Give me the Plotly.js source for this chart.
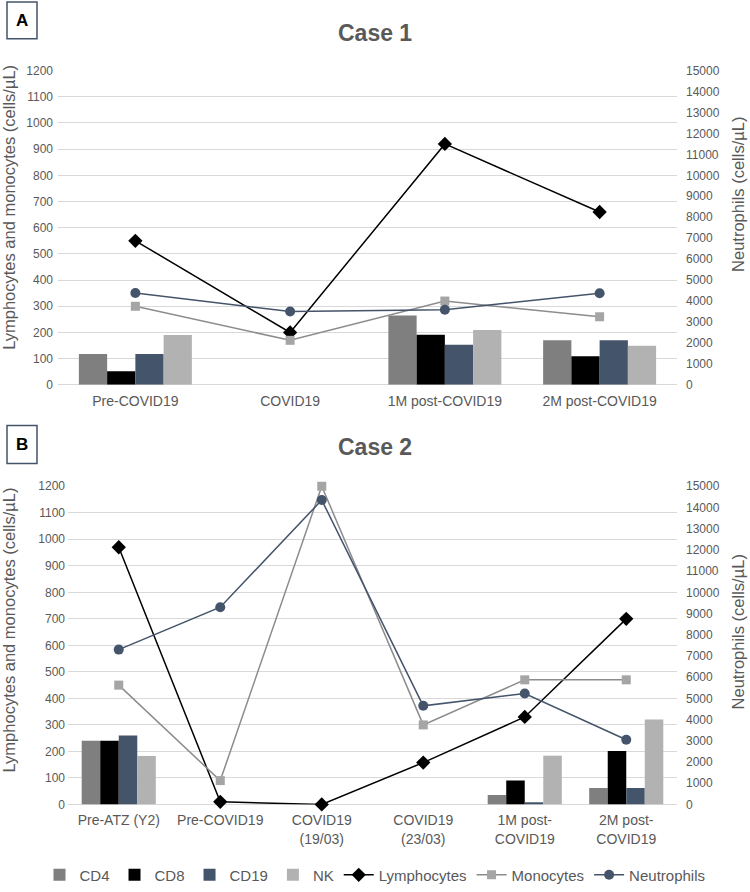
<!DOCTYPE html>
<html>
<head>
<meta charset="utf-8">
<script src="https://cdn.plot.ly/plotly-3.0.1.min.js"></script>
<style>html,body{margin:0;padding:0;background:#fff;}#chart{width:750px;height:892px;}</style>
</head>
<body>
<div id="chart"></div>
<script>
// ---- Case 1 data ----
const cats1 = ['Pre-COVID19', 'COVID19', '1M post-COVID19', '2M post-COVID19'];
const cd4_1 = [118, null, 265, 170];
const cd8_1 = [52, null, 191, 109];
const cd19_1 = [118, null, 153, 170];
const nk_1 = [190, null, 209, 149];
const lymph_1 = [550, 200, 920, 660];
const mono_1 = [300, 170, 320, 260];
const neut_1 = [4380, 3500, 3580, 4370];

// ---- Case 2 data ----
const cats2 = ['Pre-ATZ (Y2)', 'Pre-COVID19', 'COVID19<br>(19/03)', 'COVID19<br>(23/03)', '1M post-<br>COVID19', '2M post-<br>COVID19'];
const cd4_2 = [240, null, null, null, 36, 62];
const cd8_2 = [240, null, null, null, 90, 202];
const cd19_2 = [260, null, null, null, 8, 62];
const nk_2 = [183, null, null, null, 184, 320];
const lymph_2 = [970, 10, 0, 158, 330, 700];
const mono_2 = [450, 90, 1200, 300, 470, 470];
const neut_2 = [7300, 9300, 14350, 4650, 5230, 3050];

const leftTicks = [0,100,200,300,400,500,600,700,800,900,1000,1100,1200];
const rightTicks = [0,1000,2000,3000,4000,5000,6000,7000,8000,9000,10000,11000,12000,13000,14000,15000];

const FONT = 'Liberation Sans, Arial, sans-serif';
const GREY = '#595959';
const C = {cd4:'#7f7f7f', cd8:'#000000', cd19:'#44546a', nk:'#b2b2b2', lymph:'#000000', monoLine:'#8c8c8c', monoMk:'#a5a5a5', neut:'#44546a'};

function panel(cats, cd4, cd8, cd19, nk, lymph, mono, neut, xa, ya, ya2, show) {
  const bar = (name, y, color) => ({type:'bar', name, x:cats, y, xaxis:xa, yaxis:ya, marker:{color}, showlegend:show, hoverinfo:'y'});
  return [
    bar('CD4', cd4, C.cd4),
    bar('CD8', cd8, C.cd8),
    bar('CD19', cd19, C.cd19),
    bar('NK', nk, C.nk),
    {type:'scatter', mode:'lines+markers', name:'Lymphocytes', x:cats, y:lymph, xaxis:xa, yaxis:ya, cliponaxis:false,
     line:{color:C.lymph, width:1.5}, marker:{symbol:'diamond', size:11, color:C.lymph}, showlegend:show},
    {type:'scatter', mode:'lines+markers', name:'Monocytes', x:cats, y:mono, xaxis:xa, yaxis:ya, cliponaxis:false,
     line:{color:C.monoLine, width:1.5}, marker:{symbol:'square', size:9, color:C.monoMk}, showlegend:show},
    {type:'scatter', mode:'lines+markers', name:'Neutrophils', x:cats, y:neut, xaxis:xa, yaxis:ya2, cliponaxis:false,
     line:{color:C.neut, width:1.5}, marker:{symbol:'circle', size:10, color:C.neut}, showlegend:show}
  ];
}

const data = [].concat(
  panel(cats1, cd4_1, cd8_1, cd19_1, nk_1, lymph_1, mono_1, neut_1, 'x', 'y', 'y2', true),
  panel(cats2, cd4_2, cd8_2, cd19_2, nk_2, lymph_2, mono_2, neut_2, 'x2', 'y3', 'y4', false)
);

const H = 892, W = 750;
const py = p => 1 - p / H;
const px = p => p / W;

const xBase = {type:'category', showgrid:false, zeroline:false, showline:false, ticks:'',
  tickfont:{family:FONT, size:14, color:GREY}, ticklabelstandoff:6, fixedrange:true};
const yLeft = {range:[0,1200], tickvals:leftTicks, tickformat:'d', showgrid:true, gridcolor:'#d9d9d9', gridwidth:1,
  zeroline:true, zerolinecolor:'#d9d9d9', zerolinewidth:1, showline:false, ticks:'',
  tickfont:{family:FONT, size:12, color:GREY}};
const yRight = {range:[0,15000], tickvals:rightTicks, tickformat:'d', showgrid:false, zeroline:false, showline:false, ticks:'',
  side:'right', tickfont:{family:FONT, size:12, color:GREY}};

const layout = {
  width:W, height:H,
  margin:{l:0, r:0, t:0, b:0},
  paper_bgcolor:'#ffffff', plot_bgcolor:'rgba(0,0,0,0)',
  font:{family:FONT, color:GREY},
  barmode:'group', bargap:0.27, bargroupgap:0,
  showlegend:true,
  legend:{orientation:'h', x:0.5, xanchor:'center', y:py(880), yanchor:'middle',
    font:{family:FONT, size:15, color:GREY}, itemwidth:30, traceorder:'normal'},
  xaxis: Object.assign({}, xBase, {domain:[px(58), px(677)], anchor:'y', range:[-0.5, 3.5]}),
  yaxis: Object.assign({}, yLeft, {domain:[py(387), py(71)], anchor:'x', ticklabelstandoff:4}),
  yaxis2: Object.assign({}, yRight, {overlaying:'y', anchor:'x', ticklabelstandoff:8}),
  xaxis2: Object.assign({}, xBase, {domain:[px(68), px(677)], anchor:'y3', range:[-0.5, 5.5]}),
  yaxis3: Object.assign({}, yLeft, {domain:[py(809), py(489)], anchor:'x2', ticklabelstandoff:2}),
  yaxis4: Object.assign({}, yRight, {overlaying:'y3', anchor:'x2', ticklabelstandoff:8}),
  shapes:[
    {type:'rect', xref:'paper', yref:'paper', x0:px(7), x1:px(37), y0:py(39), y1:py(2), line:{color:'#44546a', width:1.5}},
    {type:'rect', xref:'paper', yref:'paper', x0:px(7), x1:px(37), y0:py(466), y1:py(428), line:{color:'#44546a', width:1.5}}
  ],
  annotations:[
    {text:'<b>A</b>', xref:'paper', yref:'paper', x:px(22), y:py(21), showarrow:false, xanchor:'center', yanchor:'middle', font:{family:FONT, size:17, color:'#000'}},
    {text:'<b>B</b>', xref:'paper', yref:'paper', x:px(22), y:py(447), showarrow:false, xanchor:'center', yanchor:'middle', font:{family:FONT, size:17, color:'#000'}},
    {text:'<b>Case 1</b>', xref:'paper', yref:'paper', x:0.5, y:py(33), showarrow:false, xanchor:'center', yanchor:'middle', font:{family:FONT, size:23, color:GREY}},
    {text:'<b>Case 2</b>', xref:'paper', yref:'paper', x:0.5, y:py(450), showarrow:false, xanchor:'center', yanchor:'middle', font:{family:FONT, size:23, color:GREY}},
    {text:'Lymphocytes and monocytes (cells/µL)', xref:'paper', yref:'paper', x:px(9), y:py(209), textangle:-90, showarrow:false, xanchor:'center', yanchor:'middle', font:{family:FONT, size:16.5, color:GREY}},
    {text:'Neutrophils (cells/µL)', xref:'paper', yref:'paper', x:px(738), y:py(196), textangle:-90, showarrow:false, xanchor:'center', yanchor:'middle', font:{family:FONT, size:16.5, color:GREY}},
    {text:'Lymphocytes and monocytes (cells/µL)', xref:'paper', yref:'paper', x:px(9), y:py(634), textangle:-90, showarrow:false, xanchor:'center', yanchor:'middle', font:{family:FONT, size:16.5, color:GREY}},
    {text:'Neutrophils (cells/µL)', xref:'paper', yref:'paper', x:px(738), y:py(636), textangle:-90, showarrow:false, xanchor:'center', yanchor:'middle', font:{family:FONT, size:16.5, color:GREY}}
  ]
};

Plotly.newPlot('chart', data, layout, {displayModeBar:false, staticPlot:true});
</script>
</body>
</html>
